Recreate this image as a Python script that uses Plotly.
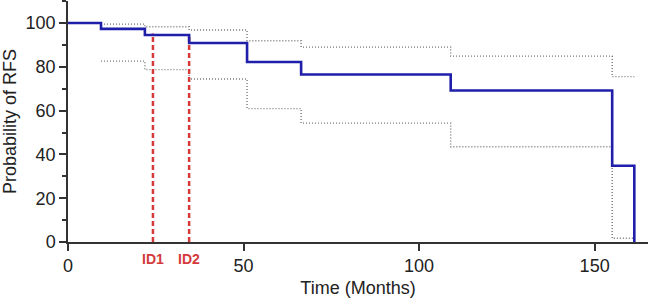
import plotly.graph_objects as go

# Kaplan-Meier step data (time in months, probability %)
times = [0, 9.4, 21.9, 34.5, 51, 66.4, 109, 155, 161.3]
surv = [100, 97.3, 94.5, 90.9, 82.2, 76.5, 69.2, 34.8, 0]

ci_times = [9.4, 21.9, 34.5, 51, 66.4, 109, 155, 161.3]
ci_upper = [99.5, 98.3, 96.8, 91.9, 89.0, 84.9, 75.5, 75.5]
ci_lower = [82.6, 78.7, 74.4, 60.9, 54.3, 43.5, 1.7, 1.7]

id_times = [24.2, 34.5]
id_labels = ["ID1", "ID2"]
id_top = [95.2, 94.5]

x_ticks = [0, 50, 100, 150]
y_ticks = [0, 20, 40, 60, 80, 100]

FONT = "Liberation Sans, Arial, sans-serif"
AX = "#333"

fig = go.Figure()

# confidence bands
for band in (ci_upper, ci_lower):
    fig.add_trace(go.Scatter(x=ci_times, y=band, mode="lines", line_shape="hv",
                             line=dict(color="#777777", width=1.4, dash="1px,2px"),
                             showlegend=False, hoverinfo="skip"))

# ID markers
for t, top in zip(id_times, id_top):
    fig.add_trace(go.Scatter(x=[t, t], y=[0, top], mode="lines",
                             line=dict(color="#d43a3a", width=2.5, dash="5px,3px"),
                             showlegend=False, hoverinfo="skip"))

# survival curve
fig.add_trace(go.Scatter(x=times, y=surv, mode="lines", line_shape="hv",
                         line=dict(color="#1f1faa", width=2.6),
                         showlegend=False))

for t, lab in zip(id_times, id_labels):
    fig.add_annotation(x=t, y=0, xref="x", yref="paper", yshift=-17, text=lab,
                       showarrow=False, yanchor="middle",
                       font=dict(family=FONT, size=14, color="#d43a3a", weight="bold"))

fig.update_layout(
    width=650, height=303,
    margin=dict(l=68, r=2, t=1, b=61),
    plot_bgcolor="white", paper_bgcolor="white",
    font=dict(family=FONT, size=18, color="#222"),
    xaxis=dict(range=[0, 165.2], tickvals=x_ticks, ticks="outside", ticklen=7,
               tickwidth=1.5, tickcolor=AX, showline=True, linecolor=AX,
               linewidth=1.5, showgrid=False, zeroline=False,
               tickfont=dict(size=18), title=dict(text="Time (Months)", standoff=6,
                                                  font=dict(size=18))),
    yaxis=dict(range=[0, 110.05], tickvals=y_ticks, ticks="outside", ticklen=7,
               tickwidth=1.5, tickcolor=AX, showline=True, linecolor=AX,
               linewidth=1.5, showgrid=False, zeroline=False,
               minor=dict(tickmode="linear", tick0=0, dtick=10, ticks="outside",
                          ticklen=4, tickwidth=1.5, tickcolor=AX),
               tickfont=dict(size=18), title=dict(text="Probability of RFS", standoff=4,
                                                  font=dict(size=18))),
)

fig.write_html("out.html")
